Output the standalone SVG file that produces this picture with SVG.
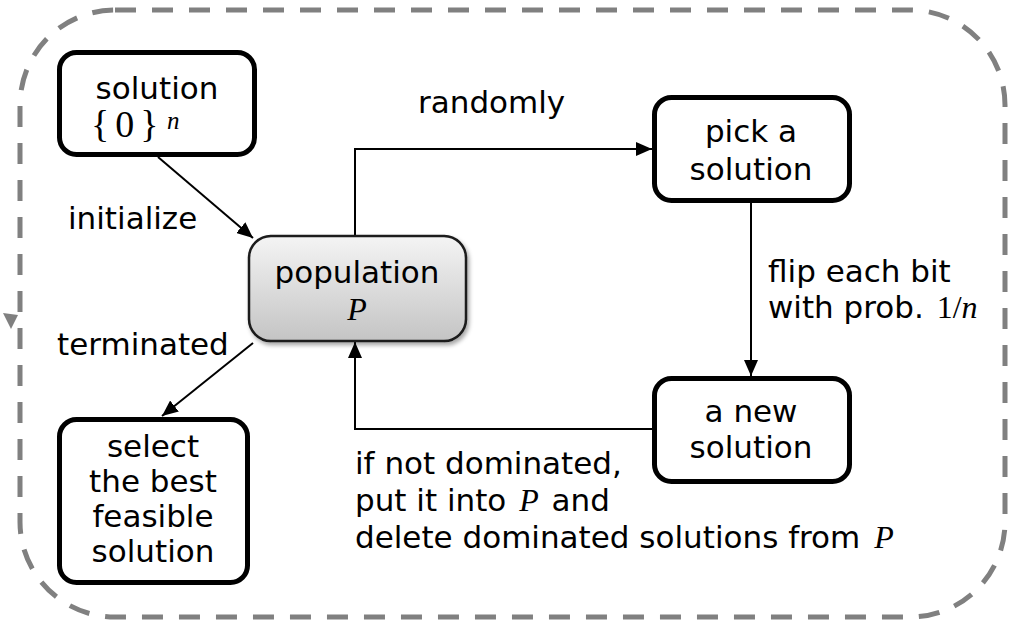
<svg xmlns="http://www.w3.org/2000/svg" width="1014" height="623" viewBox="0 0 1014 623">
  <style>
    .box { fill: #ffffff; stroke: #000000; stroke-width: 5; }
    .label { font-family: "DejaVu Sans", Verdana, sans-serif; font-size: 31px; fill: #000000; }
    .c { text-anchor: middle; }
    .m { font-family: "Liberation Serif", "DejaVu Serif", serif; font-size: 32px; }
    .mi { font-family: "Liberation Serif", "DejaVu Serif", serif; font-style: italic; font-size: 32px; }
    .edge { fill: none; stroke: #000000; stroke-width: 2; }
    .frame { fill: none; stroke: #808080; stroke-width: 5; stroke-dasharray: 21 16; }
  </style>
  <defs>
    <marker id="arrow" viewBox="0 0 16 14" refX="16" refY="7" markerWidth="16" markerHeight="14" markerUnits="userSpaceOnUse" orient="auto">
      <path d="M0,0 L16,7 L0,14 z" fill="#000000"/>
    </marker>
    <linearGradient id="popFill" x1="0" y1="0" x2="0" y2="1">
      <stop offset="0" stop-color="#f4f4f4"/>
      <stop offset="1" stop-color="#c4c4c4"/>
    </linearGradient>
    <filter id="shadow" x="-10%" y="-10%" width="125%" height="130%">
      <feDropShadow dx="2" dy="3" stdDeviation="2" flood-color="#000000" flood-opacity="0.35"/>
    </filter>
  </defs>

  <!-- dashed outer loop -->
  <g id="frame">
    <rect class="frame" x="20" y="10" width="985" height="607" rx="95" ry="95"/>
    <polygon points="3,313 18,315 11,329" fill="#808080"/>
  </g>

  <!-- connectors -->
  <g id="connectors">
    <path class="edge" d="M158,157 L253,238" marker-end="url(#arrow)"/>
    <path class="edge" d="M355,235 V149 H652" marker-end="url(#arrow)"/>
    <path class="edge" d="M751,203 V376" marker-end="url(#arrow)"/>
    <path class="edge" d="M652,429 H355 V342" marker-end="url(#arrow)"/>
    <path class="edge" d="M253,343 L162,416" marker-end="url(#arrow)"/>
    <text class="label" x="68" y="229">initialize</text>
    <text class="label" x="418" y="113">randomly</text>
    <text class="label" x="768" y="282">flip each bit</text>
    <text class="label" x="768" y="318">with prob. <tspan class="m" dx="3">1/</tspan><tspan class="mi">n</tspan></text>
    <text class="label" x="57" y="355">terminated</text>
    <text class="label" x="355" y="474">if not dominated,</text>
    <text class="label" x="355" y="511">put it into <tspan class="mi" dx="3">P</tspan><tspan dx="3"> and</tspan></text>
    <text class="label" x="355" y="548">delete dominated solutions from <tspan class="mi" dx="4">P</tspan></text>
  </g>

  <g id="node-init">
    <rect class="box" x="59.500" y="52.500" width="195" height="102" rx="17"/>
    <text class="label c" x="157" y="99">solution</text>
    <text class="label m" x="91" y="137" style="font-size:38px">{<tspan dx="6">0</tspan><tspan dx="6">}</tspan></text>
    <text class="label mi" x="167" y="129" style="font-size:25px">n</text>
  </g>

  <g id="node-population">
    <rect x="249" y="236" width="217" height="105" rx="22" fill="url(#popFill)" stroke="#1a1a1a" stroke-width="2.500" filter="url(#shadow)"/>
    <text class="label c" x="357" y="283">population</text>
    <text class="label mi c" x="357" y="320">P</text>
  </g>

  <g id="node-pick">
    <rect class="box" x="654.500" y="97.500" width="195" height="103" rx="17"/>
    <text class="label c" x="751" y="142">pick a</text>
    <text class="label c" x="751" y="180">solution</text>
  </g>

  <g id="node-new">
    <rect class="box" x="654.500" y="378.500" width="195" height="103" rx="17"/>
    <text class="label c" x="751" y="422">a new</text>
    <text class="label c" x="751" y="458">solution</text>
  </g>

  <g id="node-select">
    <rect class="box" x="59.500" y="419.500" width="188" height="163" rx="17"/>
    <text class="label c" x="153" y="457">select</text>
    <text class="label c" x="153" y="492">the best</text>
    <text class="label c" x="153" y="527">feasible</text>
    <text class="label c" x="153" y="562">solution</text>
  </g>
</svg>
